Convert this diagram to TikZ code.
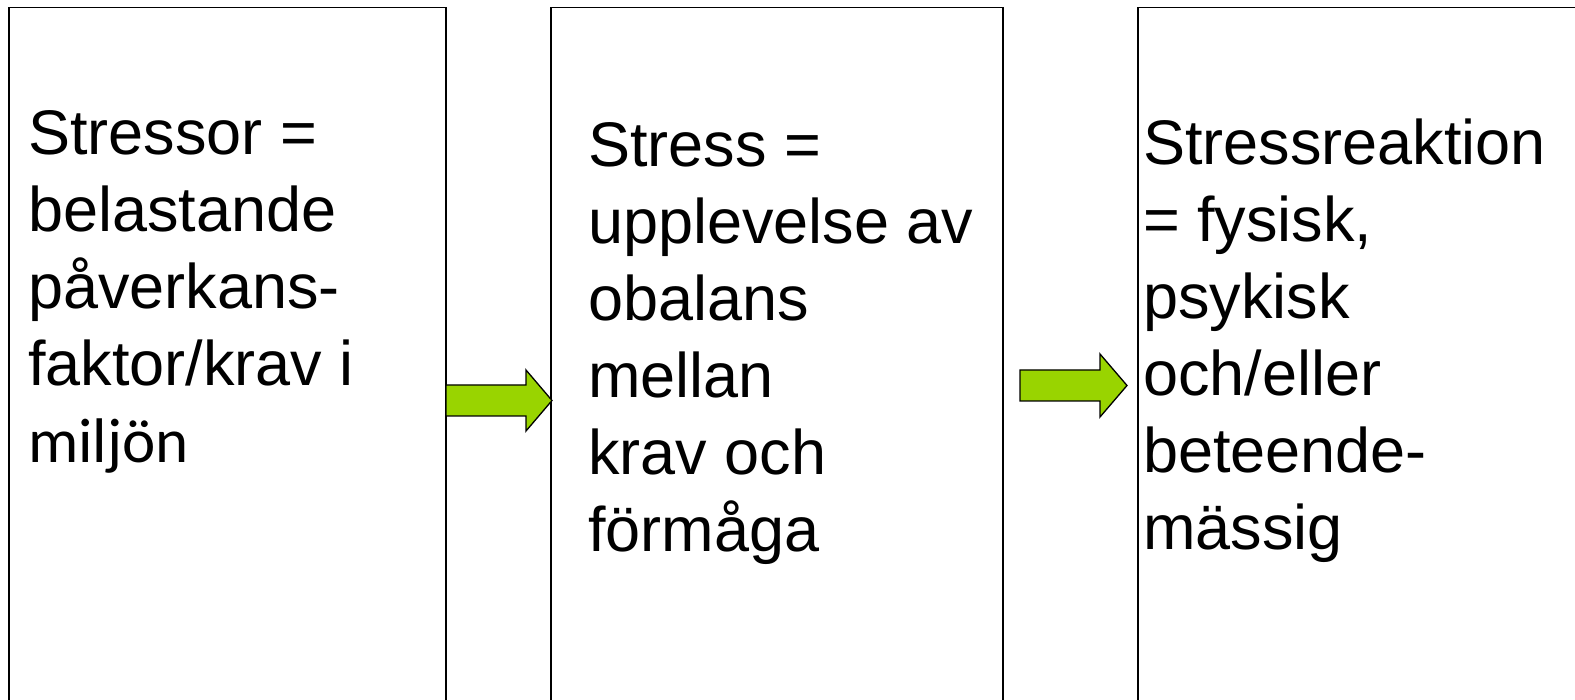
\documentclass[tikz,border=0pt]{standalone}
\usepackage{fontspec}
\setmainfont{Liberation Sans}
\newfontfamily\calibrifont{Carlito}
\definecolor{arrowgreen}{RGB}{153,212,0}
\begin{document}
\begin{tikzpicture}[x=1pt,y=-1pt,
  box/.style={draw=black, line width=1.5pt, fill=white, inner sep=0pt, anchor=north west},
  txt/.style={anchor=base west, inner sep=0pt, font=\fontsize{63}{77}\selectfont},
  blockarrow/.style={draw=black, line width=1.3pt, fill=arrowgreen, line join=miter}]
\useasboundingbox (0,0) rectangle (1575,700);
\clip (0,0) rectangle (1575,700);
\fill[white] (0,0) rectangle (1575,700);
% boxes
\node[box, minimum width=437pt, minimum height=760pt] (b1) at (8,7) {};
\node[box, minimum width=452pt, minimum height=760pt] (b2) at (550,7) {};
\node[box, minimum width=500pt, minimum height=760pt] (b3) at (1137,7) {};
% texts
\node[txt] (t1) at (28,155) {\parbox[t]{420pt}{Stressor =\\belastande\\påverkans-\\faktor/krav i\\{\calibrifont miljön}}};
\node[txt] (t2) at (588,167) {\parbox[t]{420pt}{Stress =\\upplevelse av\\obalans\\mellan\\krav och\\förmåga}};
\node[txt] (t3) at (1143,165) {\parbox[t]{430pt}{Stressreaktion\\= fysisk,\\psykisk\\och/eller\\beteende-\\mässig}};
% block arrows
\coordinate (a1s) at (446,400.5);
\coordinate (a1t) at (552,400.5);
\draw[blockarrow] (446,385) -- (526,385) -- (526,370) -- (a1t) -- (526,431) -- (526,416) -- (446,416) -- cycle;
\coordinate (a2s) at (1020,385.5);
\coordinate (a2t) at (1127,385.5);
\draw[blockarrow] (1020,370) -- (1100,370) -- (1100,354) -- (a2t) -- (1100,417) -- (1100,401) -- (1020,401) -- cycle;
\end{tikzpicture}
\end{document}
